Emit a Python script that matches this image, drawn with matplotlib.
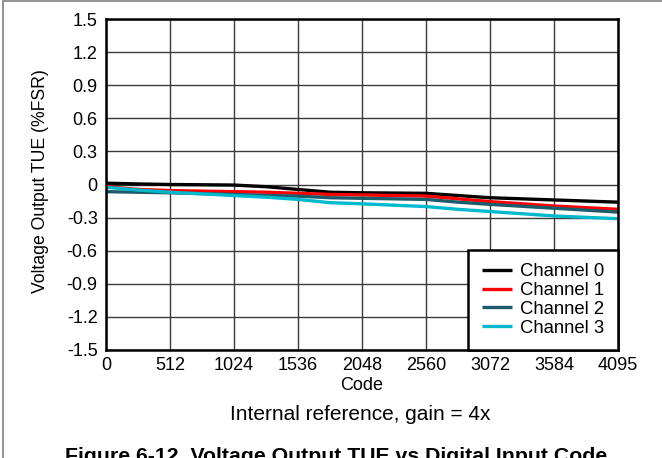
import matplotlib
matplotlib.use('Agg')
import matplotlib.pyplot as plt
from matplotlib.patches import Rectangle

plt.rcParams['font.family'] = ['Liberation Sans', 'DejaVu Sans']

# Data
codes = [0, 256, 512, 1024, 1280, 1536, 1792, 2048, 2560, 2816, 3072, 3584, 4095]
ch0 = [0.012, 0.005, 0.0, -0.005, -0.02, -0.045, -0.07, -0.075, -0.08, -0.10, -0.12, -0.14, -0.16]
ch1 = [-0.02, -0.045, -0.055, -0.065, -0.07, -0.08, -0.09, -0.095, -0.105, -0.13, -0.155, -0.195, -0.225]
ch2 = [-0.065, -0.07, -0.075, -0.09, -0.10, -0.105, -0.12, -0.125, -0.135, -0.16, -0.18, -0.215, -0.25]
ch3 = [-0.025, -0.05, -0.07, -0.10, -0.115, -0.135, -0.165, -0.175, -0.20, -0.225, -0.245, -0.285, -0.31]

series_names = ['Channel 0', 'Channel 1', 'Channel 2', 'Channel 3']
series_colors = ['#000000', '#ff0000', '#1b5b6b', '#00b9cc']

x_ticks = [0, 512, 1024, 1536, 2048, 2560, 3072, 3584, 4095]
y_ticks = [-1.5, -1.2, -0.9, -0.6, -0.3, 0, 0.3, 0.6, 0.9, 1.2, 1.5]
y_tick_labels = ['-1.5', '-1.2', '-0.9', '-0.6', '-0.3', '0', '0.3', '0.6', '0.9', '1.2', '1.5']

W, H = 662, 458
fig = plt.figure(figsize=(W / 100, H / 100), dpi=100)

# outer frame of the figure
fig.patches.append(Rectangle((3 / W, -0.1), 1.2, 1.1 - 1.5 / H, transform=fig.transFigure,
                             fill=False, edgecolor='#808080', linewidth=1.2))

ax = fig.add_axes([106 / W, 1 - 350 / H, 512 / W, 331 / H])

for ys, name, col in zip([ch0, ch1, ch2, ch3], series_names, series_colors):
    ax.plot(codes, ys, color=col, linewidth=2.4, label=name, solid_capstyle='butt')

ax.set_xlim(0, 4095)
ax.set_ylim(-1.5, 1.5)
ax.set_xticks(x_ticks)
ax.set_xticklabels([str(v) for v in x_ticks])
ax.set_yticks(y_ticks)
ax.set_yticklabels(y_tick_labels)
ax.tick_params(length=0, labelsize=13)
ax.tick_params(axis='x', pad=5)
ax.tick_params(axis='y', pad=6)
ax.grid(True, color='#3a3a3a', linewidth=1.0)
ax.set_axisbelow(True)
for sp in ax.spines.values():
    sp.set_linewidth(1.8)
    sp.set_color('black')

leg = ax.legend(loc='lower right', fontsize=13.3, frameon=True, fancybox=False,
                borderaxespad=0, handlelength=1.65, handletextpad=0.45,
                labelspacing=0.1, borderpad=0.72)
leg.get_frame().set_edgecolor('black')
leg.get_frame().set_linewidth(1.8)
leg.get_frame().set_alpha(1)

fig.text(362 / W, 1 - 385 / H, 'Code', ha='center', va='center', fontsize=13)
fig.text(41 / W, 1 - 181 / H, 'Voltage Output TUE (%FSR)', rotation=90,
         ha='center', va='center', fontsize=12.7)
fig.text(360 / W, 1 - 414 / H, 'Internal reference, gain = 4x', ha='center',
         va='center', fontsize=15)
fig.text(336 / W, 1 - 457 / H, 'Figure 6-12. Voltage Output TUE vs Digital Input Code',
         ha='center', va='center', fontsize=15.3, fontweight='bold')

fig.savefig('out.png', dpi=100)
